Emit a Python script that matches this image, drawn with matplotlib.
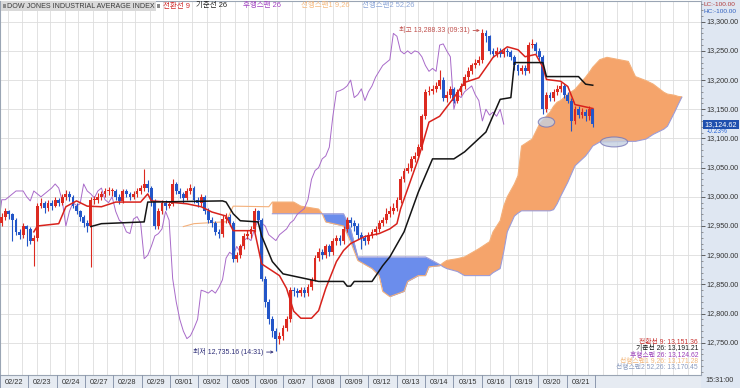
import numpy as np
import matplotlib.pyplot as plt
from matplotlib.patches import Ellipse, Rectangle

# ============================================================
# DADOS (candles horarios, 8 por dia)
# ============================================================

days = ['02/22', '02/23', '02/24', '02/27', '02/28', '02/29', '03/01',
        '03/02', '03/05', '03/06', '03/07', '03/08', '03/09', '03/12',
        '03/13', '03/14', '03/15', '03/16', '03/19', '03/20', '03/21']

opens = [12955, 12965, 12975, 12970, 12960, 12940, 12935, 12950, 12945, 12925,
         12930, 12985, 12990, 12980, 12990, 12985, 12995, 12990, 13000, 13005,
         13000, 12985, 12975, 12965, 12955, 12950, 12995, 12995, 13000, 13005,
         13010, 13010, 13010, 13000, 12993, 13010, 13005, 13000, 13005, 13010,
         13015, 13022, 13015, 12993, 12950, 12975, 12990, 12985, 12988, 13022,
         13010, 13005, 12998, 13010, 13015, 12995, 12990, 13000, 12975, 12960,
         12955, 12940, 12937, 12962, 12966, 12955, 12894, 12900, 12915, 12933,
         12937, 12945, 12975, 12960, 12860, 12820, 12790, 12770, 12757, 12762,
         12775, 12790, 12840, 12838, 12835, 12840, 12835, 12845, 12858, 12895,
         12905, 12900, 12915, 12905, 12925, 12930, 12925, 12945, 12960, 12955,
         12950, 12935, 12930, 12925, 12935, 12940, 12945, 12955, 12960, 12970,
         12975, 12980, 12995, 13030, 13045, 13050, 13065, 13070, 13085, 13138,
         13180, 13182, 13185, 13190, 13200, 13170, 13175, 13185, 13165, 13180,
         13190, 13205, 13215, 13225, 13230, 13235, 13280, 13275, 13250, 13245,
         13250, 13245, 13250, 13248, 13240, 13225, 13215, 13220, 13215, 13260,
         13262, 13250, 13240, 13150, 13175, 13170, 13180, 13185, 13190, 13175,
         13165, 13130, 13150, 13140, 13145, 13138, 13150]

highs = [12972, 12980, 12978, 12972, 12963, 12945, 12955, 12952, 12948, 12935,
         12990, 12998, 12993, 12995, 12994, 13000, 12998, 13005, 13012, 13010,
         13003, 12990, 12978, 12968, 12960, 13000, 13002, 13006, 13010, 13015,
         13016, 13015, 13013, 13004, 13014, 13013, 13008, 13010, 13015, 13020,
         13048, 13028, 13018, 12996, 12980, 12995, 12995, 12993, 13030, 13025,
         13015, 13008, 13015, 13022, 13018, 13000, 13005, 13003, 12980, 12965,
         12958, 12945, 12968, 12972, 12970, 12958, 12906, 12920, 12938, 12943,
         12950, 12980, 12978, 12963, 12865, 12825, 12795, 12775, 12768, 12780,
         12795, 12845, 12845, 12843, 12846, 12845, 12850, 12863, 12900, 12912,
         12910, 12920, 12920, 12930, 12935, 12935, 12950, 12965, 12966, 12960,
         12955, 12940, 12935, 12940, 12945, 12950, 12960, 12965, 12980, 12985,
         12990, 13000, 13035, 13050, 13058, 13070, 13076, 13090, 13142, 13185,
         13190, 13192, 13196, 13218, 13205, 13182, 13190, 13188, 13185, 13195,
         13210, 13222, 13230, 13236, 13242, 13288.33, 13285, 13278, 13255, 13256,
         13255, 13255, 13255, 13252, 13243, 13228, 13226, 13225, 13265, 13270,
         13265, 13255, 13243, 13180, 13180, 13185, 13192, 13196, 13193, 13180,
         13170, 13155, 13155, 13152, 13150, 13155, 13153]

lows = [12950, 12960, 12962, 12925, 12935, 12928, 12930, 12915, 12920, 12882,
        12925, 12980, 12972, 12975, 12978, 12982, 12985, 12986, 12995, 12993,
        12980, 12970, 12958, 12948, 12940, 12880, 12988, 12990, 12995, 13000,
        13003, 13002, 12995, 12988, 12990, 13000, 12995, 12996, 13000, 13005,
        13010, 13008, 12985, 12945, 12945, 12970, 12978, 12980, 12985, 13005,
        12998, 12990, 12995, 13005, 12990, 12983, 12985, 12970, 12955, 12948,
        12935, 12930, 12932, 12955, 12950, 12888, 12888, 12895, 12910, 12928,
        12930, 12940, 12955, 12855, 12812, 12782, 12760, 12735.16, 12748, 12755,
        12770, 12785, 12830, 12828, 12830, 12828, 12830, 12840, 12855, 12890,
        12893, 12895, 12898, 12900, 12918, 12918, 12920, 12940, 12948, 12942,
        12928, 12910, 12918, 12920, 12930, 12935, 12940, 12950, 12955, 12965,
        12970, 12975, 12990, 13025, 13040, 13045, 13060, 13065, 13080, 13133,
        13175, 13176, 13180, 13185, 13165, 13163, 13170, 13160, 13160, 13175,
        13185, 13200, 13210, 13220, 13225, 13230, 13265, 13245, 13240, 13240,
        13240, 13240, 13242, 13235, 13218, 13208, 13210, 13208, 13212, 13255,
        13245, 13235, 13142, 13145, 13165, 13165, 13175, 13180, 13170, 13160,
        13112, 13125, 13135, 13135, 13130, 13132, 13120]

closes = [12965, 12975, 12970, 12960, 12940, 12935, 12950, 12945, 12925, 12930,
          12985, 12990, 12980, 12990, 12985, 12995, 12990, 13000, 13005, 13000,
          12985, 12975, 12965, 12955, 12950, 12995, 12995, 13000, 13005, 13010,
          13010, 13010, 13000, 12993, 13010, 13005, 13000, 13005, 13010, 13015,
          13022, 13015, 12993, 12950, 12975, 12990, 12985, 12988, 13022, 13010,
          13005, 12998, 13010, 13015, 12995, 12990, 13000, 12975, 12960, 12955,
          12940, 12937, 12962, 12966, 12955, 12894, 12900, 12915, 12933, 12937,
          12945, 12975, 12960, 12860, 12820, 12790, 12770, 12757, 12762, 12775,
          12790, 12840, 12838, 12835, 12840, 12835, 12845, 12858, 12895, 12905,
          12900, 12915, 12905, 12925, 12930, 12925, 12945, 12960, 12955, 12950,
          12935, 12930, 12925, 12935, 12940, 12945, 12955, 12960, 12970, 12975,
          12980, 12995, 13030, 13045, 13050, 13065, 13070, 13085, 13138, 13180,
          13182, 13185, 13190, 13200, 13170, 13175, 13185, 13165, 13180, 13190,
          13205, 13215, 13225, 13230, 13235, 13280, 13275, 13250, 13245, 13250,
          13245, 13250, 13248, 13240, 13225, 13215, 13220, 13215, 13260, 13262,
          13250, 13240, 13150, 13175, 13170, 13180, 13185, 13190, 13175, 13165,
          13130, 13150, 13140, 13145, 13138, 13150, 13124.62]

# 전환선 9 (tenkan)
tenkan_x = [9, 10, 16, 18, 21, 24, 28, 32, 39, 41,
            42, 47, 52, 56, 59, 63, 65, 71, 73, 75,
            78, 80, 82, 84, 87, 89, 91, 94, 96, 98,
            102, 106, 109, 111, 112, 117, 120, 123, 127, 130,
            134, 137, 138, 142, 145, 147, 150, 152, 153, 157,
            159, 161, 166]
tenkan = [12940, 12950, 12954, 12983, 12993, 12984, 12983, 12991, 12991, 13005,
          12993, 12991, 12988, 12983, 12974, 12967, 12942, 12942, 12885, 12877,
          12865, 12843, 12804, 12792, 12792, 12805, 12843, 12889, 12908, 12920,
          12932, 12937, 12945, 12954, 12979, 13065, 13128, 13138, 13170, 13196,
          13204, 13230, 13239, 13257, 13252, 13240, 13244, 13222, 13201, 13198,
          13189, 13158, 13151.36]

# 기준선 26 (kijun)
kijun_x = [25, 28, 40, 41, 62, 63, 65, 67, 72, 73,
           76, 79, 89, 96, 97, 98, 99, 104, 107, 109,
           113, 117, 121, 127, 130, 136, 140, 143, 144, 152,
           153, 162, 164, 166]
kijun = [12949, 12954, 12957, 12991, 12993, 12991, 12971, 12959, 12957, 12933,
         12889, 12868, 12855, 12855, 12847, 12847, 12855, 12855, 12882, 12897,
         12940, 13008, 13065, 13065, 13077, 13111, 13167, 13170, 13230, 13230,
         13206, 13206, 13193, 13191.21]

# 후행스팬 26
chikou_shift = 25

# 선행스팬1 antes do inicio da nuvem
span1_early_x = [51, 54, 62, 63, 65, 75]
span1_early = [12949, 12954, 12957, 12957, 12984, 12983]

# nuvem (선행스팬1 / 선행스팬2)
cloud_x = [76, 82, 84, 89, 90, 91, 96, 98, 100, 104,
           106, 107, 109, 113, 114, 117, 119, 120, 123, 124,
           125, 128, 130, 134, 137, 138, 140, 141, 142, 144,
           145, 146, 149, 151, 154, 155, 156, 157, 159, 161,
           164, 165, 166, 168, 170, 176, 178, 181, 183, 186,
           187, 189, 190, 191]
span1 = [12991, 12991, 12984, 12979, 12971, 12957, 12950, 12923, 12891, 12877,
         12865, 12838, 12829, 12838, 12855, 12865, 12865, 12880, 12882, 12887,
         12891, 12894, 12897, 12911, 12923, 12940, 12959, 12984, 13000, 13022,
         13036, 13087, 13099, 13124, 13145, 13155, 13162, 13165, 13176, 13184,
         13205, 13213, 13222, 13235, 13239, 13232, 13206, 13199, 13193, 13179,
         13176, 13174, 13172, 13171.28]
span2 = [12971, 12971, 12971, 12971, 12971, 12971, 12971, 12945, 12897, 12897,
         12897, 12897, 12897, 12897, 12897, 12897, 12897, 12894, 12884, 12880,
         12877, 12872, 12865, 12865, 12865, 12870, 12877, 12906, 12940, 12967,
         12972, 12976, 12976, 12976, 12976, 12978, 12988, 13001, 13025, 13053,
         13070, 13078, 13087, 13094, 13094, 13095, 13095, 13099, 13107, 13116,
         13121, 13145, 13158, 13170.45]

y_ticks = [12750, 12800, 12850, 12900, 12950, 13000,
           13050, 13100, 13150, 13200, 13250, 13300]

info_lines = [('전환선 9: 13,151.36', '#c8302e'),
              ('기준선 26: 13,191.21', '#1a1a1a'),
              ('후행스팬 26: 13,124.62', '#9a3cb8'),
              ('선행스팬1 9,26: 13,171.28', '#f2b77c'),
              ('선행스팬2 52,26: 13,170.45', '#8b9cc0')]

# ============================================================
# LAYOUT (pixels da imagem de referencia)
# ============================================================

plt.rcParams['font.family'] = ['Liberation Sans', 'Noto Sans CJK KR', 'DejaVu Sans']

W, H = 740, 388
PLOT_R, PLOT_T, PLOT_B = 701, 1, 375
BAR_PX = 3.56          # largura de um candle em pixels
DAY_PX = 28.33         # largura de um dia na faixa de datas
X_MIN = -0.5
X_MAX = PLOT_R / BAR_PX - 0.5
Y_MIN, Y_MAX = 12694.7, 13335.5


def fx(x):
    return x / W


def fy(y):
    return 1 - y / H


def px_to_bar(p):
    return p / BAR_PX - 0.5


fig = plt.figure(figsize=(W / 100, H / 100), dpi=100)
fig.patch.set_facecolor('white')

# fundo do eixo direito e da faixa de datas (atras dos eixos)
fig.patches.append(Rectangle((fx(PLOT_R), 0), 1 - fx(PLOT_R), 1,
                             transform=fig.transFigure, facecolor='#dfe7f2',
                             edgecolor='none', zorder=-10))
fig.patches.append(Rectangle((0, 0), fx(PLOT_R), fy(PLOT_B),
                             transform=fig.transFigure, facecolor='#e6ebf2',
                             edgecolor='none', zorder=-10))

ax = fig.add_axes([0, fy(PLOT_B), fx(PLOT_R), fy(PLOT_T) - fy(PLOT_B)])
ax.set_xlim(X_MIN, X_MAX)
ax.set_ylim(Y_MIN, Y_MAX)
ax.set_xticks([])
ax.set_yticks([])
for s in ax.spines.values():
    s.set_color('#9aa5b4')
    s.set_linewidth(0.8)

# grade
for d in range(25):
    for off in (8.3, 21.7):
        p = off + DAY_PX * d
        if p < PLOT_R:
            ax.axvline(px_to_bar(p), color='#dddddd', lw=0.6, zorder=0)
for v in y_ticks:
    ax.axhline(v, color='#dddddd', lw=0.6, zorder=0)

# ============================================================
# NUVEM
# ============================================================

cx = np.array(cloud_x)
a = np.array(span1)
b = np.array(span2)
ax.fill_between(cx, a, b, where=a >= b, interpolate=True,
                color='#f5a46b', lw=0, zorder=1)
ax.fill_between(cx, a, b, where=a < b, interpolate=True,
                color='#6b8dec', lw=0, zorder=1)
ax.plot(span1_early_x + cloud_x, span1_early + span1,
        color='#f4b07a', lw=0.8, zorder=1.5)
ax.plot(cloud_x, span2, color='#9c9cd8', lw=0.8, zorder=1.5)

# ============================================================
# CANDLES E LINHAS
# ============================================================

x = np.arange(len(closes))
o = np.array(opens)
h = np.array(highs)
l = np.array(lows)
c = np.array(closes)
up = c >= o
col = np.where(up, '#dc2a20', '#2356c8')

ax.vlines(x, l, h, colors=col, lw=0.8, zorder=3)
ax.bar(x, np.maximum(np.abs(c - o), 1.5), bottom=np.minimum(o, c),
       width=0.8, color=col, lw=0, zorder=3)

ax.plot(x - chikou_shift, closes, color='#a86ac9', lw=0.7, zorder=2)
ax.plot(tenkan_x, tenkan, color='#d8221c', lw=1.1, zorder=4)
ax.plot(kijun_x, kijun, color='#141414', lw=1.1, zorder=4)

# elipses
for ex, ey, ew in [(153, 13128, 4.6), (172, 13094, 7.6)]:
    ax.add_patch(Ellipse((ex, ey), ew, 17, facecolor='#c5d0e0', alpha=0.8,
                         edgecolor='#7676b6', lw=0.8, zorder=5))

# maximo / minimo
ax.annotate('최고 13,288.33 (09:31)', xy=(135 - 0.7, 13285),
            xytext=(135 - 3.6, 13285), ha='right', va='center',
            fontsize=5, color='#c0504d',
            arrowprops=dict(arrowstyle='->', color='#c0504d', lw=0.6,
                            mutation_scale=4, shrinkA=0.5, shrinkB=0))
ax.annotate('최저 12,735.16 (14:31)', xy=(77 - 0.6, 12734),
            xytext=(77 - 3.6, 12734), ha='right', va='center',
            fontsize=5, color='#2e2e78',
            arrowprops=dict(arrowstyle='->', color='#2e2e78', lw=0.6,
                            mutation_scale=4, shrinkA=0.5, shrinkB=0))

# ============================================================
# EIXO DIREITO
# ============================================================

ax_r = fig.add_axes([fx(PLOT_R), fy(PLOT_B), 1 - fx(PLOT_R),
                     fy(PLOT_T) - fy(PLOT_B)])
ax_r.set_ylim(Y_MIN, Y_MAX)
ax_r.set_xlim(0, 1)
ax_r.patch.set_visible(False)
for s in ax_r.spines.values():
    s.set_visible(False)
ax_r.set_xticks([])
ax_r.set_yticks(y_ticks)
ax_r.set_yticklabels([])
ax_r.set_yticks(np.arange(12700, 13340, 10), minor=True)
ax_r.tick_params(axis='y', which='major', direction='in', length=3,
                 width=0.6, color='#4a4a4a')
ax_r.tick_params(axis='y', which='minor', direction='in', length=1.3,
                 width=0.5, color='#707070')
for v in y_ticks:
    ax_r.text(0.15, v, f'{v:,.2f}', fontsize=5.2, va='center', ha='left',
              color='#333333')

last = closes[-1]
ax_r.add_patch(Rectangle((0.05, last - 7.7), 0.93, 15.4,
                         facecolor='#1f50ae', edgecolor='none', zorder=5))
ax_r.text(0.51, last, f'{last:,.2f}', fontsize=5.2, va='center', ha='center',
          color='white', zorder=6)
ax_r.text(0.15, last - 12.5, '-0.23%', fontsize=4.8, va='center',
          ha='left', color='#2a66d6')

fig.text(fx(703), fy(4.5), 'LC:-100.00', fontsize=4.6, va='center',
         color='#b03a3a')
fig.text(fx(703), fy(11.5), 'HC:-100.00', fontsize=4.6, va='center',
         color='#2f5fbf')

# ============================================================
# FAIXA DE DATAS
# ============================================================

ax_b = fig.add_axes([0, 0, fx(PLOT_R), fy(PLOT_B)])
ax_b.set_xlim(0, PLOT_R)
ax_b.set_ylim(0, 1)
ax_b.axis('off')
for d in range(len(days) + 1):
    ax_b.axvline(DAY_PX * d, color='#8c98ad', lw=0.7)
for d, lab in enumerate(days):
    ax_b.text(DAY_PX * (d + 0.5), 0.45, lab, ha='center', va='center',
              fontsize=5.3, color='#333333')

fig.text(fx(720), fy(381), '15:31:00', fontsize=5.2, ha='center',
         va='center', color='#333333')

# ============================================================
# LEGENDA SUPERIOR E TEXTOS
# ============================================================

fig.patches.append(Rectangle((fx(1), fy(11)), fx(155), fy(1) - fy(11),
                             transform=fig.transFigure, facecolor='#d9d9d9',
                             edgecolor='none', zorder=5))
for sx in (2.5, 157):
    fig.patches.append(Rectangle((fx(sx), fy(7.5)), fx(3), fy(4.5) - fy(7.5),
                                 transform=fig.transFigure,
                                 facecolor='#8a8a8a', edgecolor='none',
                                 zorder=6))

legend_items = [(7, 'DOW JONES INDUSTRIAL AVERAGE INDEX', '#3a3a3a', 5.1),
                (163, '전환선 9', '#d02a2a', 5.4),
                (196, '기준선 26', '#202020', 5.4),
                (243, '후행스팬 26', '#a040c0', 5.4),
                (301, '선행스팬1 9,26', '#f5b97f', 5.4),
                (362, '선행스팬2 52,26', '#8aa4d6', 5.4)]
for lx, txt, color, fs in legend_items:
    fig.text(fx(lx), fy(6), txt, fontsize=fs, va='center', ha='left',
             color=color, zorder=7)

for k, (txt, color) in enumerate(info_lines):
    fig.text(fx(698), fy(342 + 6.5 * k), txt, fontsize=4.9, va='center',
             ha='right', color=color, zorder=7)

fig.savefig('out.png', dpi=100)
